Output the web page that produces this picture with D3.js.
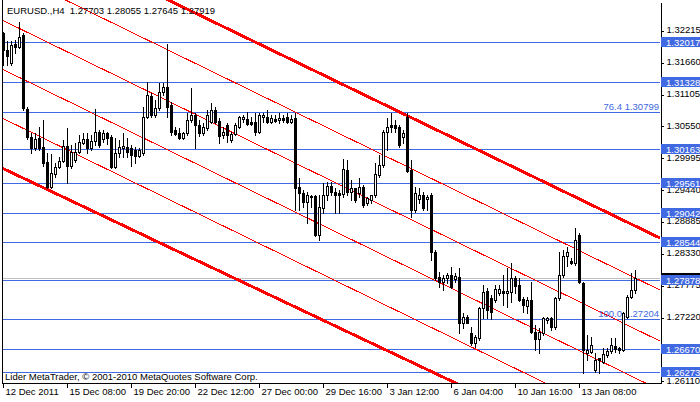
<!DOCTYPE html>
<html>
<head>
<meta charset="UTF-8">
<title>EURUSD.,H4</title>
<script src="https://d3js.org/d3.v7.min.js"></script>
<style>
html, body { margin: 0; padding: 0; background: #fff; }
svg { display: block; }
text { font-family: "Liberation Sans", Arial, sans-serif; font-size: 9.5px; }
</style>
</head>
<body>
<div id="chart"></div>
<script>
// H4 bars (one per 4 hours, oldest first)
var opens = [1.32179,1.31883,1.31657,1.31988,1.31935,1.32144,1.30855,1.30368,1.30176,1.30350,
  1.30193,1.29932,1.29497,1.29723,1.29845,1.29949,1.30211,1.29862,1.29967,1.30106,
  1.30263,1.30333,1.30176,1.30298,1.30455,1.30333,1.30437,1.30368,1.29845,1.30089,
  1.30176,1.30193,1.30176,1.30141,1.30037,1.30089,1.30716,1.31082,1.30751,1.30873,
  1.31151,1.31239,1.30925,1.30489,1.30437,1.30350,1.30437,1.30664,1.30751,1.30577,
  1.30437,1.30524,1.30629,1.30838,1.30646,1.30402,1.30577,1.30315,1.30420,1.30542,
  1.30681,1.30681,1.30629,1.30629,1.30455,1.30716,1.30716,1.30629,1.30681,1.30664,
  1.30698,1.30716,1.30629,1.30698,1.29497,1.29392,1.29235,1.29322,1.29340,1.28660,
  1.29131,1.29357,1.29514,1.29409,1.29392,1.29375,1.29793,1.29409,1.29479,1.29392,
  1.29497,1.29218,1.29270,1.29357,1.29706,1.29880,1.30455,1.30577,1.30577,1.30542,
  1.30368,1.30716,1.29793,1.29096,1.29287,1.29357,1.29287,1.29357,1.28364,1.27929,
  1.27842,1.27911,1.27964,1.27894,1.27929,1.27127,1.27232,1.26953,1.26779,1.26866,
  1.27389,1.27685,1.27563,1.27528,1.27650,1.27685,1.27650,1.27667,1.27911,1.27789,
  1.27545,1.27424,1.27528,1.26971,1.26849,1.26953,1.27180,1.27215,1.27058,1.27563,
  1.27964,1.28295,1.28207,1.28173,1.28660,1.27824,1.26605,1.26622,1.26309,1.26518,
  1.26448,1.26570,1.26640,1.26727,1.26692,1.26657,1.27232,1.27580,1.27703];
var highs = [1.32197,1.32040,1.32040,1.32057,1.32371,1.32179,1.30890,1.30437,1.30437,1.30542,
  1.30664,1.30089,1.30071,1.29915,1.30019,1.30315,1.30524,1.30228,1.30263,1.30402,
  1.30437,1.30437,1.30402,1.30855,1.30489,1.30489,1.30455,1.30402,1.30350,1.30315,
  1.30437,1.30350,1.30228,1.30193,1.30176,1.30890,1.31326,1.31134,1.31012,1.31308,
  1.31308,1.31988,1.30977,1.30542,1.30524,1.30455,1.30786,1.31221,1.30786,1.30664,
  1.30611,1.30838,1.30960,1.30890,1.30698,1.30542,1.30611,1.30455,1.30611,1.30733,
  1.30751,1.30803,1.30716,1.30786,1.30786,1.30786,1.30838,1.30751,1.30751,1.30786,
  1.30751,1.30786,1.30751,1.30786,1.29653,1.29444,1.29409,1.29357,1.29357,1.29357,
  1.29566,1.29584,1.29584,1.29479,1.29444,1.29984,1.29967,1.29618,1.29479,1.29653,
  1.29531,1.29322,1.29357,1.29915,1.30054,1.30489,1.30698,1.30786,1.30664,1.30577,
  1.30489,1.30786,1.29967,1.29497,1.29479,1.29409,1.29357,1.29392,1.28399,1.28016,
  1.27964,1.27998,1.28103,1.27998,1.28086,1.27302,1.27267,1.27058,1.26918,1.27406,
  1.27789,1.27737,1.27615,1.27789,1.27789,1.27964,1.28086,1.28173,1.27946,1.27911,
  1.27580,1.27580,1.27842,1.27092,1.27040,1.27232,1.27232,1.27232,1.27580,1.28364,
  1.28399,1.28451,1.28260,1.28782,1.28695,1.27842,1.26918,1.26883,1.26605,1.26518,
  1.26692,1.26692,1.26866,1.26866,1.26709,1.27319,1.27615,1.27998,1.28055];
var lows = [1.31622,1.31622,1.31622,1.31831,1.31918,1.30838,1.30333,1.30089,1.30141,1.30141,
  1.29862,1.29479,1.29479,1.29671,1.29828,1.29932,1.29566,1.29828,1.29932,1.30089,
  1.30246,1.30089,1.30141,1.30228,1.30193,1.30280,1.30246,1.29828,1.29828,1.30019,
  1.30019,1.30019,1.29862,1.29915,1.30019,1.30054,1.30698,1.30716,1.30716,1.30838,
  1.31099,1.30716,1.30402,1.30402,1.30333,1.30333,1.30402,1.30629,1.30176,1.30385,
  1.30402,1.30489,1.30611,1.30611,1.30263,1.30350,1.30280,1.30280,1.30402,1.30524,
  1.30629,1.30577,1.30577,1.30402,1.30437,1.30629,1.30611,1.30611,1.30629,1.30611,
  1.30629,1.30611,1.30611,1.29096,1.29096,1.29148,1.28869,1.29148,1.28643,1.28573,
  1.29044,1.29270,1.29357,1.29044,1.29044,1.29322,1.29357,1.29270,1.29235,1.29322,
  1.29148,1.29183,1.29218,1.29322,1.29671,1.29845,1.30141,1.30455,1.30455,1.30193,
  1.30263,1.29758,1.28974,1.29061,1.29218,1.29096,1.29096,1.28225,1.27876,1.27755,
  1.27702,1.27824,1.27737,1.27842,1.26953,1.27040,1.27127,1.26744,1.26709,1.26831,
  1.27215,1.27215,1.27197,1.27493,1.27615,1.27441,1.27406,1.27493,1.27650,1.27511,
  1.27319,1.27302,1.26953,1.26657,1.26605,1.26918,1.27127,1.27005,1.27023,1.27528,
  1.27929,1.28120,1.28155,1.28138,1.27824,1.26256,1.26483,1.26605,1.26274,1.26256,
  1.26431,1.26535,1.26605,1.26622,1.26605,1.26640,1.27215,1.27563,1.27645];
var closes = [1.31883,1.31779,1.31970,1.31935,1.32110,1.30873,1.30368,1.30176,1.30333,1.30176,
  1.29915,1.29497,1.29740,1.29845,1.29949,1.30211,1.29862,1.30106,1.30106,1.30280,
  1.30333,1.30176,1.30298,1.30455,1.30228,1.30437,1.30350,1.29845,1.30089,1.30193,
  1.30211,1.30106,1.30054,1.30037,1.30141,1.30716,1.31099,1.30751,1.30873,1.31151,
  1.31239,1.30890,1.30455,1.30420,1.30350,1.30437,1.30664,1.30751,1.30577,1.30437,
  1.30542,1.30751,1.30838,1.30629,1.30385,1.30455,1.30402,1.30420,1.30577,1.30716,
  1.30716,1.30594,1.30594,1.30455,1.30751,1.30751,1.30629,1.30698,1.30646,1.30698,
  1.30664,1.30629,1.30681,1.29479,1.29392,1.29235,1.29357,1.29340,1.28660,1.29148,
  1.29357,1.29514,1.29409,1.29357,1.29357,1.29810,1.29409,1.29479,1.29270,1.29497,
  1.29183,1.29305,1.29357,1.29723,1.29880,1.30455,1.30542,1.30542,1.30524,1.30228,
  1.30437,1.29775,1.29096,1.29392,1.29357,1.29131,1.29322,1.28364,1.27911,1.27842,
  1.27911,1.27964,1.27755,1.27946,1.27127,1.27232,1.27127,1.26779,1.26883,1.27389,
  1.27667,1.27354,1.27319,1.27720,1.27720,1.27650,1.27685,1.27911,1.27772,1.27528,
  1.27441,1.27528,1.26971,1.26849,1.26971,1.27215,1.27215,1.27058,1.27563,1.27964,
  1.28295,1.28364,1.28173,1.28573,1.27842,1.26657,1.26657,1.26744,1.26483,1.26483,
  1.26587,1.26640,1.26744,1.26674,1.26657,1.27302,1.27580,1.27702,1.27919];

var symbolTitle = "EURUSD.,H4  1.27703 1.28055 1.27645 1.27919";
var copyright = "Lider MetaTrader, \u00A9 2001-2010 MetaQuotes Software Corp.";

// time axis: one label every 16 bars
var timeLabels = ["12 Dec 2011","15 Dec 08:00","19 Dec 20:00","22 Dec 12:00","27 Dec 00:00",
  "29 Dec 16:00","3 Jan 12:00","6 Jan 04:00","10 Jan 16:00","13 Jan 08:00"];
var timeLabelBars = [0,16,32,48,64,80,96,112,128,144];

// price scale ticks
var priceTicks = [1.32215,1.31660,1.31105,1.30550,1.29995,1.29440,1.28885,1.28330,1.27775,1.27220,1.26665,1.26110];

// horizontal lines with a price tag on the scale
var hLinePrices = [1.32017,1.31328,1.30163,1.29561,1.29042,1.28544,1.27878,1.26670,1.26273];
// fibo levels
var fiboNames = ["76.4","100.0"];
var fiboPrices = [1.30799,1.27204];
var bidPrice = 1.27919;

// channel lines: price at bar 0 and at bar 160
var channelBarA = 0, channelBarB = 160;
var channelPriceA = [1.34148,1.33285,1.32397,1.31543,1.30690,1.29818];
var channelPriceB = [1.28750,1.27845,1.26956,1.26102,1.25249,1.24533];

var W = 700, H = 402;
var plotLeft = 2, plotRight = 660, plotTop = 0, plotBottom = 383;
var blue = "#4169E1";

var n = opens.length;
var x = d3.scaleLinear().domain([0, n - 1]).range([3, 3 + 4 * (n - 1)]);
var y = d3.scaleLinear().domain([1.26081, 1.32719]).range([383, 2]);

var svg = d3.select("#chart").append("svg")
  .attr("width", W).attr("height", H);

svg.append("rect").attr("width", W).attr("height", H).attr("fill", "#fff");

svg.append("defs").append("clipPath").attr("id", "plotclip")
  .append("rect").attr("x", plotLeft + 1).attr("y", plotTop)
  .attr("width", plotRight - plotLeft - 1).attr("height", plotBottom - plotTop);

var objs = svg.append("g").attr("clip-path", "url(#plotclip)").attr("shape-rendering", "crispEdges");

// horizontal lines
var allH = hLinePrices.concat(fiboPrices);
objs.selectAll("line.h").data(allH).enter().append("line")
  .attr("x1", plotLeft).attr("x2", plotRight)
  .attr("y1", function(d){ return Math.round(y(d)) + 0.5; })
  .attr("y2", function(d){ return Math.round(y(d)) + 0.5; })
  .attr("stroke", blue).attr("stroke-width", 1);

// bid line
objs.append("line")
  .attr("x1", plotLeft).attr("x2", plotRight)
  .attr("y1", Math.round(y(bidPrice)) + 0.5).attr("y2", Math.round(y(bidPrice)) + 0.5)
  .attr("stroke", "#c0c0c0");

// red channel
function chanPrice(k, bar) {
  return channelPriceA[k] + (channelPriceB[k] - channelPriceA[k]) * (bar - channelBarA) / (channelBarB - channelBarA);
}
objs.selectAll("line.ch").data(d3.range(channelPriceA.length)).enter().append("line")
  .attr("x1", x(-2)).attr("x2", x(168))
  .attr("y1", function(k){ return y(chanPrice(k, -2)); })
  .attr("y2", function(k){ return y(chanPrice(k, 168)); })
  .attr("stroke", "#ff0000")
  .attr("stroke-width", function(k){ return (k === 0 || k === channelPriceA.length - 1) ? 3 : 1; });

// fibo texts, sitting just above their level
svg.selectAll("text.fibo").data(fiboPrices).enter().append("text")
  .attr("x", plotRight - 1).attr("y", function(d){ return Math.round(y(d)) - 2; })
  .attr("text-anchor", "end").attr("fill", blue)
  .text(function(d, i){ return fiboNames[i] + " " + d3.format(".5f")(d); });

// candles
var bars = d3.range(n).map(function(i){
  return {i: i, o: opens[i], h: highs[i], l: lows[i], c: closes[i]};
});
var cg = svg.append("g").attr("shape-rendering", "crispEdges");
cg.selectAll("line.wick").data(bars).enter().append("line")
  .attr("x1", function(d){ return Math.round(x(d.i)) + 0.5; })
  .attr("x2", function(d){ return Math.round(x(d.i)) + 0.5; })
  .attr("y1", function(d){ return Math.round(y(d.h)); })
  .attr("y2", function(d){ return Math.round(y(d.l)) + 1; })
  .attr("stroke", "#000");
cg.selectAll("rect.body").data(bars).enter().append("rect")
  .each(function(d){
    var cx = Math.round(x(d.i));
    var t = Math.round(y(Math.max(d.o, d.c)));
    var b = Math.round(y(Math.min(d.o, d.c)));
    var r = d3.select(this);
    if (d.c < d.o) {
      r.attr("x", cx - 1).attr("y", t).attr("width", 3).attr("height", Math.max(1, b - t + 1))
        .attr("fill", "#000");
    } else {
      r.attr("x", cx - 0.5).attr("y", t + 0.5).attr("width", 2).attr("height", Math.max(0, b - t))
        .attr("fill", "#fff").attr("stroke", "#000");
    }
  });

// frame
var frame = svg.append("g").attr("shape-rendering", "crispEdges").attr("stroke", "#000");
frame.append("line").attr("x1", plotLeft + 0.5).attr("x2", plotLeft + 0.5).attr("y1", plotTop).attr("y2", plotBottom + 1);
frame.append("line").attr("x1", plotLeft).attr("x2", plotRight + 1).attr("y1", plotBottom + 0.5).attr("y2", plotBottom + 0.5);

// price axis
var pAxis = svg.append("g").attr("transform", "translate(" + (plotRight + 0.5) + ",0)")
  .call(d3.axisRight(y).tickValues(priceTicks).tickFormat(d3.format(".5f"))
    .tickSize(3).tickSizeOuter(0).tickPadding(3));
pAxis.attr("font-family", null).attr("font-size", null);
pAxis.select(".domain").attr("shape-rendering", "crispEdges");
pAxis.selectAll(".tick line").attr("shape-rendering", "crispEdges");
pAxis.selectAll(".tick text").attr("fill", "#000").attr("dy", "0.2em");

// time axis
var tAxis = svg.append("g").attr("transform", "translate(0," + (plotBottom + 0.5) + ")")
  .call(d3.axisBottom(x).tickValues(timeLabelBars)
    .tickFormat(function(d, i){ return timeLabels[i]; })
    .tickSize(4).tickSizeOuter(0).tickPadding(1));
tAxis.attr("font-family", null).attr("font-size", null);
tAxis.select(".domain").remove();
tAxis.selectAll(".tick line").attr("shape-rendering", "crispEdges");
tAxis.selectAll(".tick text").attr("text-anchor", "start").attr("dx", 2).attr("fill", "#000");

// price tags
var bidY = Math.round(y(bidPrice));
svg.append("rect").attr("x", plotRight + 1).attr("y", bidY - 5).attr("width", W - plotRight).attr("height", 10).attr("fill", "#000");
var tags = svg.selectAll("g.tag").data(hLinePrices).enter().append("g")
  .attr("transform", function(d){ return "translate(" + (plotRight + 1) + "," + Math.round(y(d)) + ")"; });
tags.append("rect").attr("x", 0).attr("y", -5).attr("width", W - plotRight).attr("height", 10).attr("fill", blue);
tags.append("text").attr("x", 5).attr("y", 3.5).attr("fill", "#fff")
  .text(function(d){ return d3.format(".5f")(d); });

// title and copyright
svg.append("text").attr("x", 7).attr("y", 13.5).attr("fill", "#000")
  .style("white-space", "pre").text(symbolTitle);
svg.append("text").attr("x", 5).attr("y", 380).attr("fill", "#000").text(copyright);
</script>
</body>
</html>
